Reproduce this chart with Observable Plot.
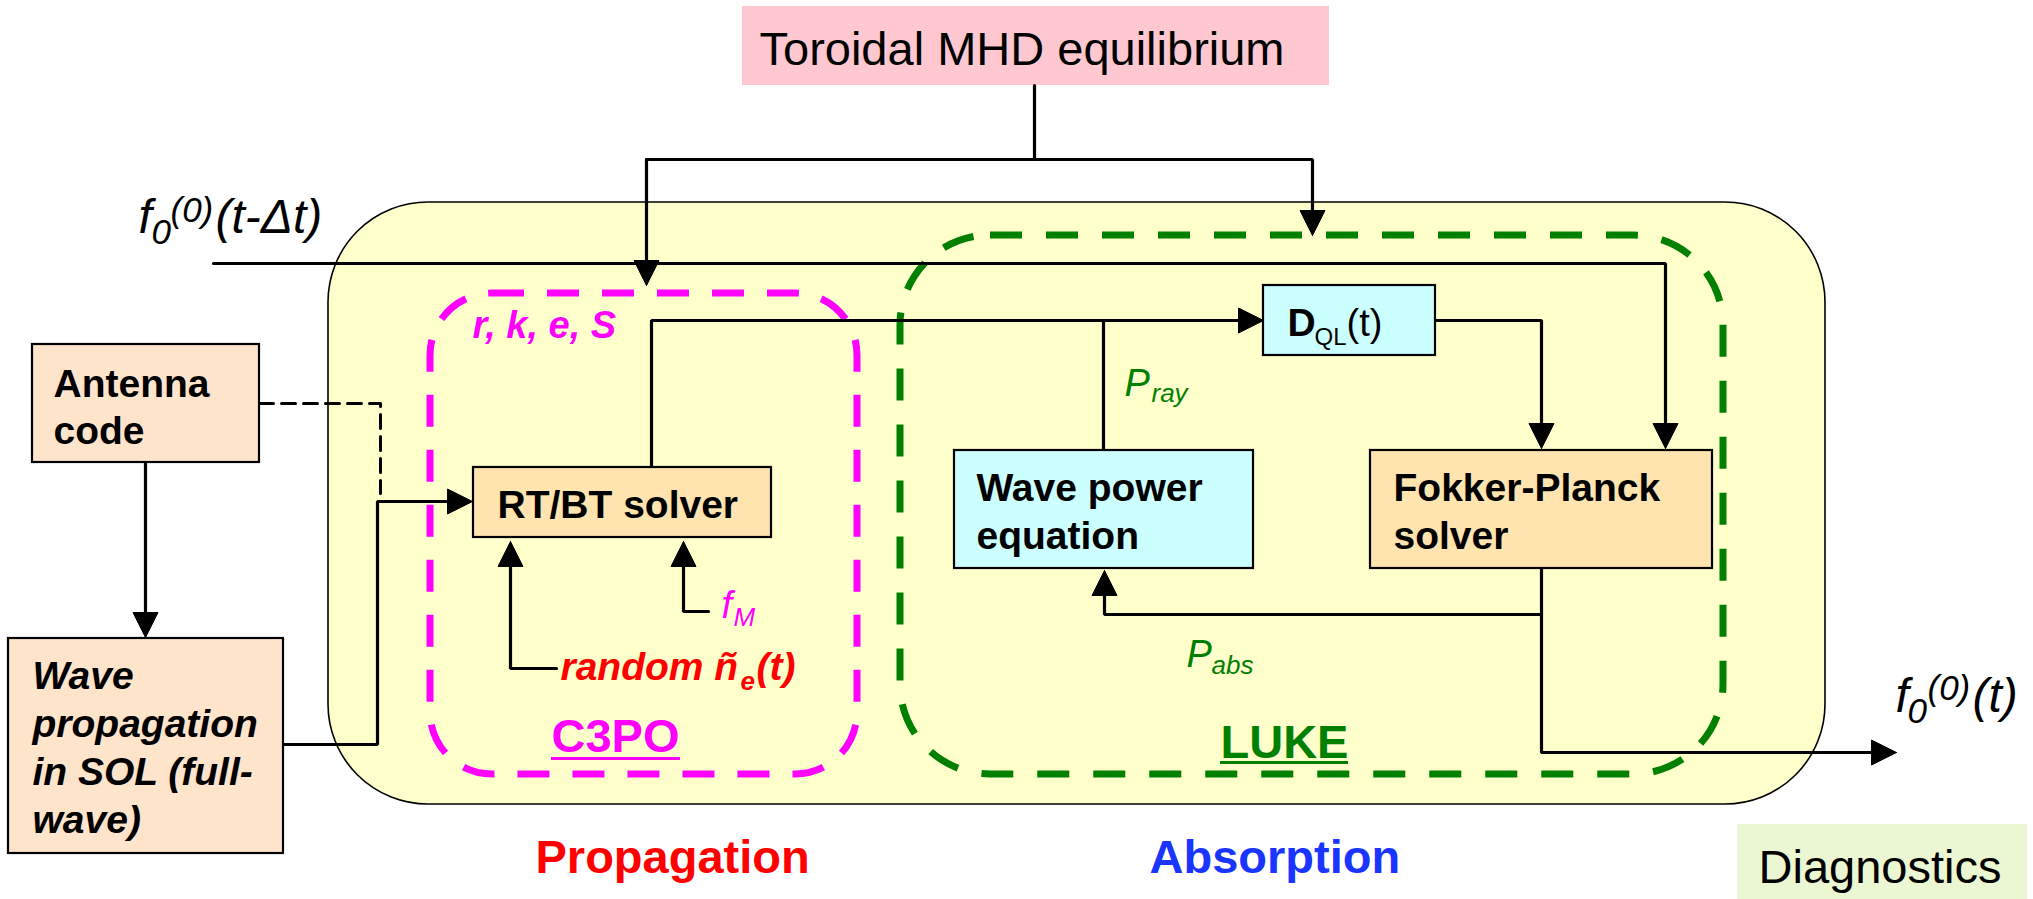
<!DOCTYPE html>
<html><head><meta charset="utf-8">
<script src="https://cdn.jsdelivr.net/npm/d3@7"></script>
<script src="https://cdn.jsdelivr.net/npm/@observablehq/plot@0.6"></script>
<style>html,body{margin:0;padding:0;background:#fff;overflow:hidden}</style>
</head><body><div id="chart"></div>
<script>
// ---------- diagram data (diagram coordinates, 2033 x 899) ----------
const regions = [
  {name:"frame", kind:"frame", x1:328, y1:202, x2:1825, y2:804},
  {name:"C3PO",  kind:"c3po",  x1:430, y1:293, x2:857,  y2:774},
  {name:"LUKE",  kind:"luke",  x1:900, y1:235, x2:1723, y2:774}
];
const boxes = [
  {name:"Toroidal MHD equilibrium", kind:"pink",   x1:742,  y1:6,   x2:1329, y2:85},
  {name:"Antenna code",             kind:"peach",  x1:32,   y1:344, x2:259,  y2:462},
  {name:"Wave propagation in SOL",  kind:"peach",  x1:8,    y1:638, x2:283,  y2:853},
  {name:"RT/BT solver",             kind:"orange", x1:473,  y1:467, x2:771,  y2:537},
  {name:"Wave power equation",      kind:"cyan",   x1:954,  y1:450, x2:1253, y2:568},
  {name:"DQL(t)",                   kind:"cyan",   x1:1263, y1:285, x2:1435, y2:355},
  {name:"Fokker-Planck solver",     kind:"orange", x1:1370, y1:450, x2:1712, y2:568},
  {name:"Diagnostics",              kind:"green",  x1:1737, y1:824, x2:2027, y2:899}
];
const links = [
  {id:"mhd-stem", arrow:false, pts:[[1034,85],[1034,159]]},
  {id:"mhd-luke", arrow:true,  pts:[[646,159],[1312,159],[1312,235]]},
  {id:"mhd-c3po", arrow:true,  pts:[[646,159],[646,285]]},
  {id:"f0-in",    arrow:true,  pts:[[213,263],[1665,263],[1665,448]]},
  {id:"ant-wave", arrow:true,  pts:[[145,462],[145,637]]},
  {id:"wave-rt",  arrow:true,  pts:[[283,744],[377,744],[377,501],[472,501]]},
  {id:"rt-dql",   arrow:true,  pts:[[651,467],[651,320],[1263,320]]},
  {id:"pray",     arrow:false, pts:[[1103,450],[1103,320]]},
  {id:"dql-fp",   arrow:true,  pts:[[1435,320],[1541,320],[1541,448]]},
  {id:"fp-out",   arrow:true,  pts:[[1541,568],[1541,752],[1896,752]]},
  {id:"pabs",     arrow:true,  pts:[[1541,614],[1104,614],[1104,570]]},
  {id:"ne",       arrow:true,  pts:[[556,668],[510,668],[510,541]]},
  {id:"fm",       arrow:true,  pts:[[708,611],[683,611],[683,541]]}
];
const dashedLinks = [
  {id:"ant-rt", pts:[[259,403],[380,403],[380,493]]}
];
const labels = [
  {t:"Toroidal MHD equilibrium", x:759, y:64, k:"title"},
  {t:"Antenna", x:53, y:396, k:"box"},
  {t:"code", x:53, y:443, k:"box"},
  {t:"Wave", x:32, y:688, k:"boxI"},
  {t:"propagation", x:32, y:736, k:"boxI"},
  {t:"in SOL (full-", x:32, y:784, k:"boxI"},
  {t:"wave)", x:32, y:832, k:"boxI"},
  {t:"RT/BT solver", x:497, y:517, k:"box"},
  {t:"Wave power", x:976, y:500, k:"box"},
  {t:"equation", x:976, y:548, k:"box"},
  {t:"Fokker-Planck", x:1393, y:500, k:"box"},
  {t:"solver", x:1393, y:548, k:"box"},
  {t:"D", x:1287, y:335, k:"box"},
  {t:"QL", x:1314, y:344, k:"sub"},
  {t:"(t)", x:1346, y:335, k:"plain"},
  {t:"f", x:138, y:232, k:"math"},
  {t:"0", x:151, y:243, k:"mathS"},
  {t:"(0)", x:170, y:221, k:"mathS"},
  {t:"(t-Δt)", x:215, y:232, k:"math"},
  {t:"f", x:1895, y:711, k:"math"},
  {t:"0", x:1907, y:722, k:"mathS"},
  {t:"(0)", x:1927, y:699, k:"mathS"},
  {t:"(t)", x:1972, y:711, k:"math"},
  {t:"P", x:1124, y:395, k:"gP"},
  {t:"ray", x:1151, y:401, k:"gS"},
  {t:"P", x:1186, y:666, k:"gP"},
  {t:"abs", x:1211, y:673, k:"gS"},
  {t:"f", x:721, y:617, k:"mP"},
  {t:"M", x:733, y:625, k:"mS"},
  {t:"r, k, e, S", x:472, y:337, k:"mBI"},
  {t:"random ñ", x:560, y:679, k:"rBI"},
  {t:"e", x:740, y:689, k:"rBIs"},
  {t:"(t)", x:756, y:679, k:"rBI"},
  {t:"C3PO", x:551, y:751, k:"c3po"},
  {t:"LUKE", x:1220, y:757, k:"luke"},
  {t:"Propagation", x:535, y:872, k:"prop"},
  {t:"Absorption", x:1149, y:872, k:"abs"},
  {t:"Diagnostics", x:1758, y:882, k:"title"}
];
const underlines = [
  {k:"c3po", x1:551, x2:680, y:758},
  {k:"luke", x1:1220, x2:1348, y:762}
];

// ---------- styles ----------
const MAG = "#ff00ff", GRN = "#008000", RED = "#ff0000", BLU = "#1a35ff";
const boxFill = {pink:"#ffc8d0", peach:"#ffe4cc", orange:"#ffe4b0", cyan:"#ccffff", green:"#ebf6d2"};
const textStyles = {
  title:{size:47, weight:"normal", style:"normal", fill:"black"},
  box:{size:39, weight:"bold", style:"normal", fill:"black"},
  boxI:{size:39, weight:"bold", style:"italic", fill:"black"},
  plain:{size:38, weight:"normal", style:"normal", fill:"black"},
  sub:{size:24, weight:"normal", style:"normal", fill:"black"},
  math:{size:48, weight:"normal", style:"italic", fill:"black"},
  mathS:{size:35, weight:"normal", style:"italic", fill:"black"},
  gP:{size:38, weight:"normal", style:"italic", fill:GRN},
  gS:{size:26, weight:"normal", style:"italic", fill:GRN},
  mP:{size:38, weight:"normal", style:"italic", fill:MAG},
  mS:{size:26, weight:"normal", style:"italic", fill:MAG},
  mBI:{size:38, weight:"bold", style:"italic", fill:MAG},
  rBI:{size:39, weight:"bold", style:"italic", fill:RED},
  rBIs:{size:26, weight:"bold", style:"italic", fill:RED},
  c3po:{size:47, weight:"bold", style:"normal", fill:MAG},
  luke:{size:47, weight:"bold", style:"normal", fill:GRN},
  prop:{size:47, weight:"bold", style:"normal", fill:RED},
  abs:{size:47, weight:"bold", style:"normal", fill:BLU}
};

// ---------- derived geometry ----------
const AL = 25, AW = 12.5;
const lineRows = [], headRows = [];
for (const l of links) {
  const pts = l.pts.map(p => p.slice());
  if (l.arrow) {
    const [tx, ty] = pts[pts.length - 1], [px, py] = pts[pts.length - 2];
    const len = Math.hypot(tx - px, ty - py), dx = (tx - px) / len, dy = (ty - py) / len;
    const bx = tx - dx * AL, by = ty - dy * AL;
    pts[pts.length - 1] = [bx + dx, by + dy];
    headRows.push({id:l.id, x:tx, y:ty}, {id:l.id, x:bx - dy * AW, y:by + dx * AW},
                  {id:l.id, x:bx + dy * AW, y:by - dx * AW}, {id:l.id, x:tx, y:ty});
  }
  pts.forEach(([x, y]) => lineRows.push({id:l.id, x, y}));
}
const dashRows = dashedLinks.flatMap(l => l.pts.map(([x, y]) => ({id:l.id, x, y})));

const textMarks = Object.entries(textStyles).map(([k, s]) =>
  Plot.text(labels.filter(d => d.k === k), {
    x:"x", y:"y", text:"t", textAnchor:"start", lineAnchor:"bottom",
    fontSize:s.size, fontWeight:s.weight, fontStyle:s.style, fill:s.fill
  }));

const chart = Plot.plot({
  width:2033, height:899, margin:0,
  x:{domain:[0,2033], range:[0,2033], axis:null},
  y:{domain:[0,899], range:[0,899], axis:null},
  style:{background:"white", fontFamily:"'Liberation Sans', Arial, Helvetica, sans-serif", overflow:"visible"},
  marks:[
    Plot.rect(regions.filter(d => d.kind === "frame"), {x1:"x1", y1:"y1", x2:"x2", y2:"y2", rx:100, fill:"#ffffcc", stroke:"black", strokeWidth:1.6}),
    Plot.rect(boxes.filter(d => d.kind === "pink" || d.kind === "green"), {x1:"x1", y1:"y1", x2:"x2", y2:"y2", fill:d => boxFill[d.kind]}),
    Plot.rect(regions.filter(d => d.kind === "c3po"), {x1:"x1", y1:"y1", x2:"x2", y2:"y2", rx:62, fill:"none", stroke:MAG, strokeWidth:7, strokeDasharray:"32,23"}),
    Plot.rect(regions.filter(d => d.kind === "luke"), {x1:"x1", y1:"y1", x2:"x2", y2:"y2", rx:90, fill:"none", stroke:GRN, strokeWidth:7, strokeDasharray:"32,24"}),
    Plot.line(lineRows, {x:"x", y:"y", z:"id", stroke:"black", strokeWidth:3.2, strokeLinejoin:"miter"}),
    Plot.line(dashRows, {x:"x", y:"y", z:"id", stroke:"black", strokeWidth:3, strokeDasharray:"14,8"}),
    Plot.rect(boxes.filter(d => d.kind !== "pink" && d.kind !== "green"), {x1:"x1", y1:"y1", x2:"x2", y2:"y2", fill:d => boxFill[d.kind], stroke:"black", strokeWidth:2.2}),
    Plot.line(headRows, {x:"x", y:"y", z:"id", fill:"black", stroke:"black", strokeWidth:1}),
    Plot.ruleY(underlines, {y:"y", x1:"x1", x2:"x2", stroke:d => d.k === "c3po" ? MAG : GRN, strokeWidth:3}),
    ...textMarks
  ]
});
document.getElementById("chart").appendChild(chart);
</script>
</body></html>
